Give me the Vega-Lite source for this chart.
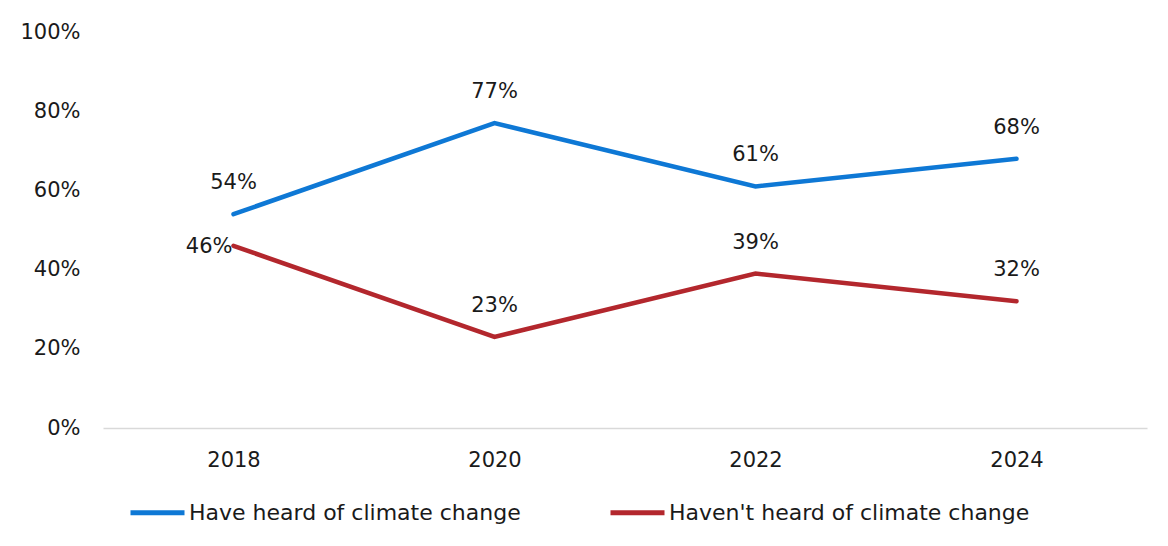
{
  "$schema": "https://vega.github.io/schema/vega-lite/v6.json",
  "width": 1044,
  "height": 396,
  "padding": {"left": 103, "top": 32, "right": 21, "bottom": 118},
  "autosize": {"type": "none"},
  "background": "white",
  "config": {
    "view": {"stroke": null},
    "font": "DejaVu Sans",
    "axis": {"labelFont": "DejaVu Sans", "labelFontSize": 21, "labelColor": "#1a1a1a", "grid": false, "ticks": false, "title": null, "domain": false}
  },
  "data": {
    "values": [
      {"year": "2018", "series": "Have heard of climate change", "value": 0.54},
      {"year": "2020", "series": "Have heard of climate change", "value": 0.77},
      {"year": "2022", "series": "Have heard of climate change", "value": 0.61},
      {"year": "2024", "series": "Have heard of climate change", "value": 0.68},
      {"year": "2018", "series": "Haven't heard of climate change", "value": 0.46},
      {"year": "2020", "series": "Haven't heard of climate change", "value": 0.23},
      {"year": "2022", "series": "Haven't heard of climate change", "value": 0.39},
      {"year": "2024", "series": "Haven't heard of climate change", "value": 0.32}
    ]
  },
  "encoding": {
    "x": {
      "field": "year", "type": "ordinal",
      "scale": {"paddingInner": 0, "paddingOuter": 0},
      "axis": {"labelAngle": 0, "labelPadding": 21, "domain": true, "domainColor": "#d9d9d9", "domainWidth": 1.5}
    },
    "y": {
      "field": "value", "type": "quantitative",
      "scale": {"domain": [0, 1], "nice": false},
      "axis": {"format": ".0%", "values": [0, 0.2, 0.4, 0.6, 0.8, 1.0], "labelPadding": 23}
    }
  },
  "layer": [
    {
      "mark": {"type": "line", "strokeWidth": 4.5, "strokeCap": "round"},
      "encoding": {
        "color": {
          "field": "series", "type": "nominal",
          "scale": {"domain": ["Have heard of climate change", "Haven't heard of climate change"], "range": ["#0E78D5", "#B3272D"]},
          "legend": {
            "title": null, "orient": "none", "direction": "horizontal",
            "legendX": 25, "legendY": 451,
            "symbolType": "stroke", "symbolSize": 2916, "symbolStrokeWidth": 5,
            "labelFont": "DejaVu Sans", "labelFontSize": 22, "labelColor": "#1a1a1a",
            "labelOffset": 2, "columnPadding": 79, "labelLimit": 500
          }
        }
      }
    },
    {
      "transform": [{"filter": "!(datum.year == '2018' && datum.value < 0.5)"}],
      "mark": {"type": "text", "dy": -31, "fontSize": 21, "color": "#1a1a1a", "font": "DejaVu Sans"},
      "encoding": {"text": {"field": "value", "format": ".0%"}}
    },
    {
      "transform": [{"filter": "datum.year == '2018' && datum.value < 0.5"}],
      "mark": {"type": "text", "align": "right", "dx": -1, "dy": 1, "fontSize": 21, "color": "#1a1a1a", "font": "DejaVu Sans"},
      "encoding": {"text": {"field": "value", "format": ".0%"}}
    }
  ]
}
